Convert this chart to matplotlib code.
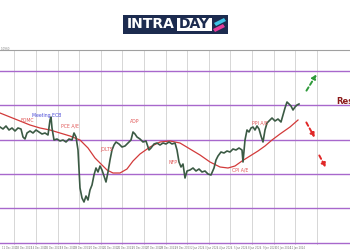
import matplotlib.pyplot as plt
from matplotlib.patches import Rectangle, Polygon
import numpy as np

# price (close) series, bar index vs price
bar_idx = [0, 3, 6, 9, 12, 15, 18, 21, 23, 25, 27, 30, 33, 36, 39, 42, 45, 48, 50, 51,
           52, 54, 57, 60, 63, 66, 69, 72, 74, 76, 78, 80, 82, 84, 86, 88, 90, 92, 94, 96,
           98, 100, 102, 104, 106, 108, 110, 112, 114, 116, 119, 122, 125, 128, 131, 133, 135, 137, 140, 143,
           146, 149, 151, 154, 157, 160, 163, 166, 169, 172, 175, 177, 179, 181, 183, 185, 187, 190, 193, 196,
           199, 202, 205, 208, 211, 214, 216, 218, 221, 224, 227, 230, 233, 236, 239, 242, 243, 245, 247, 249,
           251, 253, 255, 257, 259, 261, 263, 265, 267, 269, 272, 275, 278, 281, 283, 285, 287, 289, 291, 293,
           295, 297, 299]
close = [1.0923, 1.0921, 1.0924, 1.0920, 1.0922, 1.0919, 1.0922, 1.0921, 1.0913, 1.0911,
         1.0917, 1.0919, 1.0917, 1.0920, 1.0918, 1.0916, 1.0917, 1.0915, 1.0930, 1.0933,
         1.0922, 1.0910, 1.0911, 1.0909, 1.0910, 1.0908, 1.0911, 1.0910, 1.0917, 1.0913,
         1.0900, 1.0862, 1.0852, 1.0848, 1.0854, 1.0850, 1.0860, 1.0865, 1.0875, 1.0882,
         1.0878, 1.0884, 1.0880, 1.0874, 1.0868, 1.0878, 1.0890, 1.0900, 1.0905, 1.0908,
         1.0906, 1.0903, 1.0904, 1.0907, 1.0910, 1.0918, 1.0916, 1.0913, 1.0911, 1.0908,
         1.0909, 1.0900, 1.0902, 1.0906, 1.0907, 1.0905, 1.0907, 1.0906, 1.0908, 1.0906,
         1.0907, 1.0900, 1.0888, 1.0883, 1.0886, 1.0872, 1.0879, 1.0880, 1.0882, 1.0879,
         1.0881, 1.0878, 1.0879, 1.0876, 1.0875, 1.0882, 1.0890, 1.0894, 1.0898, 1.0897,
         1.0899, 1.0898, 1.0901, 1.0900, 1.0902, 1.0900, 1.0888, 1.0910, 1.0920, 1.0918,
         1.0922, 1.0923, 1.0920, 1.0924, 1.0921, 1.0914, 1.0908, 1.0920, 1.0927, 1.0929,
         1.0932, 1.0929, 1.0931, 1.0928, 1.0935, 1.0942, 1.0948, 1.0946, 1.0944, 1.0940,
         1.0943, 1.0945, 1.0946]

# moving average
ma_idx = [0, 10, 20, 30, 40, 50, 60, 70, 80, 88, 95, 101, 107, 113, 120, 127, 133, 140,
          150, 160, 170, 180, 190, 200, 210, 220, 228, 235, 242, 250, 258, 265, 272, 280, 290, 298]
ma = [1.0937, 1.0933, 1.0929, 1.0925, 1.0922, 1.0920, 1.0917, 1.0914, 1.0910, 1.0902,
      1.0892, 1.0886, 1.0880, 1.0877, 1.0877, 1.0881, 1.0889, 1.0896, 1.0903, 1.0908,
      1.0909, 1.0907, 1.0901, 1.0895, 1.0888, 1.0883, 1.0882, 1.0884, 1.0889, 1.0894,
      1.0899, 1.0904, 1.0910, 1.0916, 1.0923, 1.0930]

# horizontal levels
levels = [1.0979, 1.09447, 1.09104, 1.08761, 1.08418, 1.08075]

# news events: name, bar, price, colour
events = [("FOMC", 27, 1.0930, "#e05555"),
          ("Meeting ECB", 47, 1.0935, "#4a4ad8"),
          ("PCE A/E", 70, 1.0924, "#e05555"),
          ("JOLTS", 107, 1.0900, "#e05555"),
          ("ADP", 135, 1.0929, "#e05555"),
          ("NFP", 173, 1.0888, "#e05555"),
          ("CPI A/E", 240, 1.0880, "#e05555"),
          ("PPI A/E", 260, 1.0927, "#e05555")]

date_labels = ["12 Dec 2023", "13 Dec 2023", "14 Dec 2023", "15 Dec 2023", "18 Dec 2023",
               "19 Dec 2023", "20 Dec 2023", "21 Dec 2023", "22 Dec 2023", "26 Dec 2023",
               "27 Dec 2023", "28 Dec 2023", "29 Dec 2023", "2 Jan 2024", "3 Jan 2024",
               "4 Jan 2024", "5 Jan 2024", "8 Jan 2024", "9 Jan 2024", "10 Jan 2024",
               "11 Jan 2024"]

fig = plt.figure(figsize=(3.5, 2.5), dpi=100)
fig.patch.set_facecolor("white")

# --- logo ---
fig.patches.append(Rectangle((123 / 350, 1 - 34 / 250), 105 / 350, 19 / 250,
                             transform=fig.transFigure, facecolor="#1c2b4f", edgecolor="none"))
fig.patches.append(Rectangle((177 / 350, 1 - 31 / 250), 35 / 350, 13 / 250,
                             transform=fig.transFigure, facecolor="white", edgecolor="none"))
fig.text(151 / 350, 1 - 24.5 / 250, "INTRA", color="white", fontsize=10, fontweight="bold",
         ha="center", va="center")
fig.text(194.5 / 350, 1 - 24.5 / 250, "DAY", color="#1c2b4f", fontsize=10, fontweight="bold",
         ha="center", va="center")
fig.patches.append(Polygon([(214 / 350, 1 - 23 / 250), (224 / 350, 1 - 18 / 250),
                            (226 / 350, 1 - 21 / 250), (216 / 350, 1 - 26 / 250)],
                           closed=True, transform=fig.transFigure, facecolor="#3cc3e6"))
fig.patches.append(Polygon([(213 / 350, 1 - 29 / 250), (223 / 350, 1 - 24 / 250),
                            (225 / 350, 1 - 27 / 250), (215 / 350, 1 - 32 / 250)],
                           closed=True, transform=fig.transFigure, facecolor="#e43c9a"))

# --- chart ---
ax = fig.add_axes([0, 5 / 250, 1, 195 / 250])
ax.set_xlim(0, 350)
ax.set_ylim(1.0805, 1.1000)

# vertical grid
for gx in np.arange(14.3, 320, 21.6):
    ax.axvline(gx, color="#d6d6d6", lw=0.7, zorder=0)

for lv in levels:
    ax.axhline(lv, color="#a868cc", lw=1.0, zorder=1)

ax.plot(ma_idx, ma, color="#d23a3a", lw=0.9, zorder=2)
ax.plot(bar_idx, close, color="#3b5a44", lw=1.2, zorder=3)

for name, b, p, c in events:
    ax.text(b, p, name, color=c, fontsize=3.3, ha="center", va="center", zorder=4)

# scenario arrows
ax.annotate("", xy=(318, 1.0978), xytext=(305, 1.0957),
            arrowprops=dict(arrowstyle="-|>", color="#2e9a3a", lw=1.4, ls=(0, (2, 1.5)),
                            mutation_scale=6))
ax.annotate("", xy=(316, 1.0910), xytext=(305, 1.0930),
            arrowprops=dict(arrowstyle="-|>", color="#e02828", lw=1.4, ls=(0, (2, 1.5)),
                            mutation_scale=6))
ax.annotate("", xy=(327, 1.0880), xytext=(318, 1.0897),
            arrowprops=dict(arrowstyle="-|>", color="#e02828", lw=1.4, ls=(0, (2, 1.5)),
                            mutation_scale=6))

ax.text(336, 1.0949, "Resistance", color="#8b1a1a", fontsize=6, fontweight="bold",
        ha="left", va="center", clip_on=False)
ax.text(1, 1.0999, "1.0960", color="#888888", fontsize=2, ha="left", va="bottom")

# axes look
for s in ["left", "right", "bottom"]:
    ax.spines[s].set_visible(False)
ax.spines["top"].set_color("#a0a0a0")
ax.spines["top"].set_linewidth(0.8)
ax.set_yticks([])
ax.set_xticks(np.arange(len(date_labels)) * 14.4 + 10)
ax.set_xticklabels(date_labels, fontsize=1.8, color="#777777")
ax.tick_params(axis="x", length=0, pad=1)

fig.savefig("out.png", dpi=100)
